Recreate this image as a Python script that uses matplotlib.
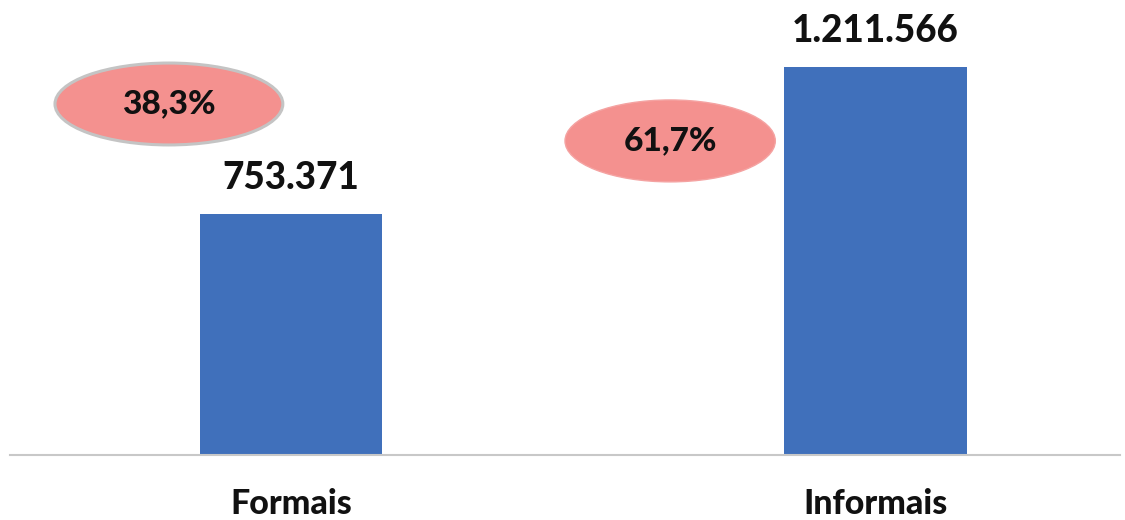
import matplotlib
matplotlib.use("Agg")
import matplotlib.pyplot as plt
from matplotlib.patches import Ellipse

categories = ["Formais", "Informais"]
values = [753371, 1211566]
value_labels = ["753.371", "1.211.566"]
shares = ["38,3%", "61,7%"]

plt.rcParams['font.family'] = ['Lato', 'DejaVu Sans']

fig = plt.figure(figsize=(11.25, 5.2), dpi=100)
ax = fig.add_axes([10/1125, 65/520, 1110/1125, 455/520])

x = list(range(len(categories)))
ax.bar(x, values, width=0.313, color="#4070BB", zorder=2)
ax.set_xlim(-0.481, 1.419)
ax.set_ylim(0, 1422000)

for xi, v, lab in zip(x, values, value_labels):
    ax.annotate(lab, (xi, v), xytext=(0, 26), textcoords="offset points",
                ha="center", va="center", fontsize=26.5, fontweight="black", color="#111111")

# share ellipses
ell_pos = [(-0.209, 1097000, 0.39), (0.649, 981600, 0.36)]
edges = ["#C4C4C4", "#F4A3A2"]
lws = [2.2, 1.0]
for (ex, ey, ew), s, ec, lw in zip(ell_pos, shares, edges, lws):
    e = Ellipse((ex, ey), ew, 256000, facecolor="#F4918F", edgecolor=ec, lw=lw, zorder=3)
    ax.add_patch(e)
    ax.text(ex, ey, s, ha="center", va="center", fontsize=24, fontweight="black",
            color="#111111", zorder=4)

for sp in ["top", "right", "left"]:
    ax.spines[sp].set_visible(False)
ax.spines["bottom"].set_color("#C8C8C8")
ax.spines["bottom"].set_linewidth(1.5)
ax.set_yticks([])
ax.set_xticks(x)
ax.set_xticklabels(categories, fontsize=24.5, fontweight="black", color="#111111")
ax.tick_params(axis="x", length=0, pad=24)

fig.savefig("out.png", dpi=100)
